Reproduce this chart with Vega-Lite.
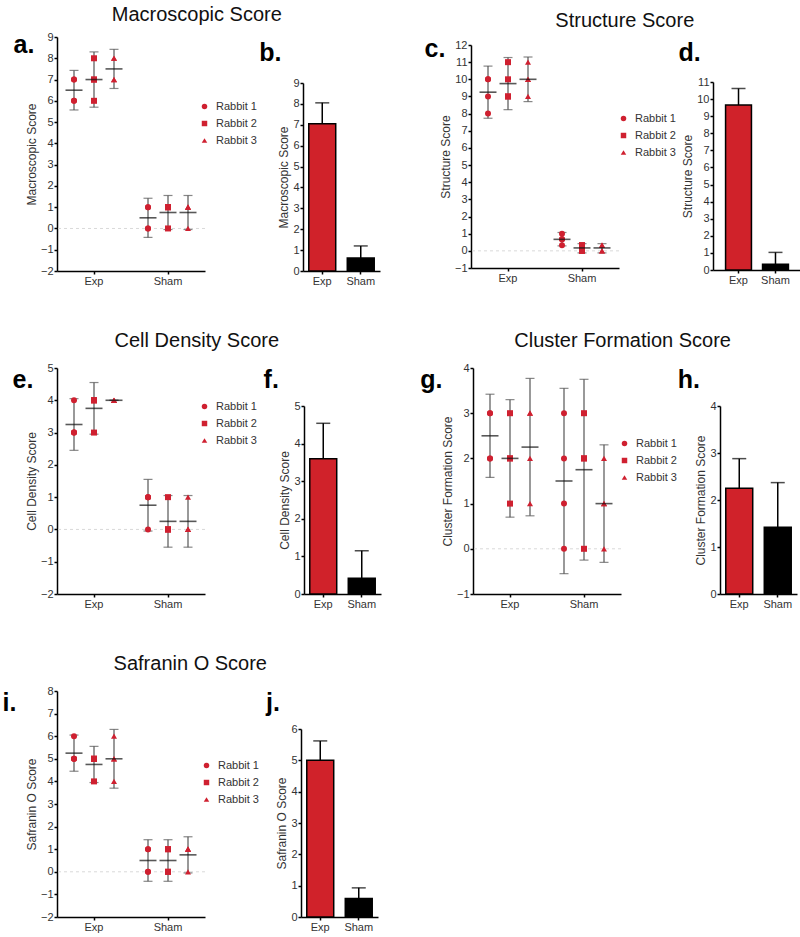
{
"$schema":"https://vega.github.io/schema/vega-lite/v6.json",
"background":"white",
"padding":{"left":2,"top":5,"right":5,"bottom":5},
"datasets":{
"pts":[
{"m":"Macro","g":"Exp","r":"Rabbit 1","v":7},{"m":"Macro","g":"Exp","r":"Rabbit 1","v":7},{"m":"Macro","g":"Exp","r":"Rabbit 1","v":6},{"m":"Macro","g":"Exp","r":"Rabbit 1","v":6},
{"m":"Macro","g":"Exp","r":"Rabbit 2","v":8},{"m":"Macro","g":"Exp","r":"Rabbit 2","v":7},{"m":"Macro","g":"Exp","r":"Rabbit 2","v":7},{"m":"Macro","g":"Exp","r":"Rabbit 2","v":6},
{"m":"Macro","g":"Exp","r":"Rabbit 3","v":8},{"m":"Macro","g":"Exp","r":"Rabbit 3","v":8},{"m":"Macro","g":"Exp","r":"Rabbit 3","v":7},{"m":"Macro","g":"Exp","r":"Rabbit 3","v":7},
{"m":"Macro","g":"Sham","r":"Rabbit 1","v":1},{"m":"Macro","g":"Sham","r":"Rabbit 1","v":1},{"m":"Macro","g":"Sham","r":"Rabbit 1","v":0},{"m":"Macro","g":"Sham","r":"Rabbit 1","v":0},
{"m":"Macro","g":"Sham","r":"Rabbit 2","v":1},{"m":"Macro","g":"Sham","r":"Rabbit 2","v":1},{"m":"Macro","g":"Sham","r":"Rabbit 2","v":1},{"m":"Macro","g":"Sham","r":"Rabbit 2","v":0},
{"m":"Macro","g":"Sham","r":"Rabbit 3","v":1},{"m":"Macro","g":"Sham","r":"Rabbit 3","v":1},{"m":"Macro","g":"Sham","r":"Rabbit 3","v":1},{"m":"Macro","g":"Sham","r":"Rabbit 3","v":0},
{"m":"Struct","g":"Exp","r":"Rabbit 1","v":10},{"m":"Struct","g":"Exp","r":"Rabbit 1","v":10},{"m":"Struct","g":"Exp","r":"Rabbit 1","v":9},{"m":"Struct","g":"Exp","r":"Rabbit 1","v":8},
{"m":"Struct","g":"Exp","r":"Rabbit 2","v":11},{"m":"Struct","g":"Exp","r":"Rabbit 2","v":10},{"m":"Struct","g":"Exp","r":"Rabbit 2","v":9},{"m":"Struct","g":"Exp","r":"Rabbit 2","v":9},
{"m":"Struct","g":"Exp","r":"Rabbit 3","v":11},{"m":"Struct","g":"Exp","r":"Rabbit 3","v":10},{"m":"Struct","g":"Exp","r":"Rabbit 3","v":10},{"m":"Struct","g":"Exp","r":"Rabbit 3","v":9},
{"m":"Struct","g":"Sham","r":"Rabbit 1","v":1},{"m":"Struct","g":"Sham","r":"Rabbit 1","v":0.67},{"m":"Struct","g":"Sham","r":"Rabbit 1","v":0.67},{"m":"Struct","g":"Sham","r":"Rabbit 1","v":0.33},
{"m":"Struct","g":"Sham","r":"Rabbit 2","v":0.33},{"m":"Struct","g":"Sham","r":"Rabbit 2","v":0.33},{"m":"Struct","g":"Sham","r":"Rabbit 2","v":0},{"m":"Struct","g":"Sham","r":"Rabbit 2","v":0},
{"m":"Struct","g":"Sham","r":"Rabbit 3","v":0.33},{"m":"Struct","g":"Sham","r":"Rabbit 3","v":0.33},{"m":"Struct","g":"Sham","r":"Rabbit 3","v":0},{"m":"Struct","g":"Sham","r":"Rabbit 3","v":0},
{"m":"Cell","g":"Exp","r":"Rabbit 1","v":4},{"m":"Cell","g":"Exp","r":"Rabbit 1","v":3},{"m":"Cell","g":"Exp","r":"Rabbit 1","v":3},{"m":"Cell","g":"Exp","r":"Rabbit 1","v":3},
{"m":"Cell","g":"Exp","r":"Rabbit 2","v":4},{"m":"Cell","g":"Exp","r":"Rabbit 2","v":4},{"m":"Cell","g":"Exp","r":"Rabbit 2","v":4},{"m":"Cell","g":"Exp","r":"Rabbit 2","v":3},
{"m":"Cell","g":"Exp","r":"Rabbit 3","v":4},{"m":"Cell","g":"Exp","r":"Rabbit 3","v":4},{"m":"Cell","g":"Exp","r":"Rabbit 3","v":4},{"m":"Cell","g":"Exp","r":"Rabbit 3","v":4},
{"m":"Cell","g":"Sham","r":"Rabbit 1","v":1},{"m":"Cell","g":"Sham","r":"Rabbit 1","v":1},{"m":"Cell","g":"Sham","r":"Rabbit 1","v":1},{"m":"Cell","g":"Sham","r":"Rabbit 1","v":0},
{"m":"Cell","g":"Sham","r":"Rabbit 2","v":1},{"m":"Cell","g":"Sham","r":"Rabbit 2","v":0},{"m":"Cell","g":"Sham","r":"Rabbit 2","v":0},{"m":"Cell","g":"Sham","r":"Rabbit 2","v":0},
{"m":"Cell","g":"Sham","r":"Rabbit 3","v":1},{"m":"Cell","g":"Sham","r":"Rabbit 3","v":0},{"m":"Cell","g":"Sham","r":"Rabbit 3","v":0},{"m":"Cell","g":"Sham","r":"Rabbit 3","v":0},
{"m":"Clus","g":"Exp","r":"Rabbit 1","v":3},{"m":"Clus","g":"Exp","r":"Rabbit 1","v":3},{"m":"Clus","g":"Exp","r":"Rabbit 1","v":2},{"m":"Clus","g":"Exp","r":"Rabbit 1","v":2},
{"m":"Clus","g":"Exp","r":"Rabbit 2","v":3},{"m":"Clus","g":"Exp","r":"Rabbit 2","v":2},{"m":"Clus","g":"Exp","r":"Rabbit 2","v":2},{"m":"Clus","g":"Exp","r":"Rabbit 2","v":1},
{"m":"Clus","g":"Exp","r":"Rabbit 3","v":3},{"m":"Clus","g":"Exp","r":"Rabbit 3","v":3},{"m":"Clus","g":"Exp","r":"Rabbit 3","v":2},{"m":"Clus","g":"Exp","r":"Rabbit 3","v":1},
{"m":"Clus","g":"Sham","r":"Rabbit 1","v":3},{"m":"Clus","g":"Sham","r":"Rabbit 1","v":2},{"m":"Clus","g":"Sham","r":"Rabbit 1","v":1},{"m":"Clus","g":"Sham","r":"Rabbit 1","v":0},
{"m":"Clus","g":"Sham","r":"Rabbit 2","v":3},{"m":"Clus","g":"Sham","r":"Rabbit 2","v":2},{"m":"Clus","g":"Sham","r":"Rabbit 2","v":2},{"m":"Clus","g":"Sham","r":"Rabbit 2","v":0},
{"m":"Clus","g":"Sham","r":"Rabbit 3","v":2},{"m":"Clus","g":"Sham","r":"Rabbit 3","v":1},{"m":"Clus","g":"Sham","r":"Rabbit 3","v":1},{"m":"Clus","g":"Sham","r":"Rabbit 3","v":0},
{"m":"Safr","g":"Exp","r":"Rabbit 1","v":6},{"m":"Safr","g":"Exp","r":"Rabbit 1","v":5},{"m":"Safr","g":"Exp","r":"Rabbit 1","v":5},{"m":"Safr","g":"Exp","r":"Rabbit 1","v":5},
{"m":"Safr","g":"Exp","r":"Rabbit 2","v":5},{"m":"Safr","g":"Exp","r":"Rabbit 2","v":5},{"m":"Safr","g":"Exp","r":"Rabbit 2","v":5},{"m":"Safr","g":"Exp","r":"Rabbit 2","v":4},
{"m":"Safr","g":"Exp","r":"Rabbit 3","v":6},{"m":"Safr","g":"Exp","r":"Rabbit 3","v":5},{"m":"Safr","g":"Exp","r":"Rabbit 3","v":5},{"m":"Safr","g":"Exp","r":"Rabbit 3","v":4},
{"m":"Safr","g":"Sham","r":"Rabbit 1","v":1},{"m":"Safr","g":"Sham","r":"Rabbit 1","v":1},{"m":"Safr","g":"Sham","r":"Rabbit 1","v":0},{"m":"Safr","g":"Sham","r":"Rabbit 1","v":0},
{"m":"Safr","g":"Sham","r":"Rabbit 2","v":1},{"m":"Safr","g":"Sham","r":"Rabbit 2","v":1},{"m":"Safr","g":"Sham","r":"Rabbit 2","v":0},{"m":"Safr","g":"Sham","r":"Rabbit 2","v":0},
{"m":"Safr","g":"Sham","r":"Rabbit 3","v":1},{"m":"Safr","g":"Sham","r":"Rabbit 3","v":1},{"m":"Safr","g":"Sham","r":"Rabbit 3","v":1},{"m":"Safr","g":"Sham","r":"Rabbit 3","v":0}
],
"sum":[
{"m":"Macro","g":"Exp","r":"Rabbit 1","mean":6.5,"lo":5.57,"hi":7.43},
{"m":"Macro","g":"Exp","r":"Rabbit 2","mean":7,"lo":5.7,"hi":8.3},
{"m":"Macro","g":"Exp","r":"Rabbit 3","mean":7.5,"lo":6.58,"hi":8.42},
{"m":"Macro","g":"Sham","r":"Rabbit 1","mean":0.5,"lo":-0.42,"hi":1.42},
{"m":"Macro","g":"Sham","r":"Rabbit 2","mean":0.75,"lo":-0.05,"hi":1.55},
{"m":"Macro","g":"Sham","r":"Rabbit 3","mean":0.75,"lo":-0.05,"hi":1.55},
{"m":"Struct","g":"Exp","r":"Rabbit 1","mean":9.25,"lo":7.73,"hi":10.77},
{"m":"Struct","g":"Exp","r":"Rabbit 2","mean":9.75,"lo":8.23,"hi":11.27},
{"m":"Struct","g":"Exp","r":"Rabbit 3","mean":10,"lo":8.7,"hi":11.3},
{"m":"Struct","g":"Sham","r":"Rabbit 1","mean":0.67,"lo":0.29,"hi":1.07},
{"m":"Struct","g":"Sham","r":"Rabbit 2","mean":0.17,"lo":-0.12,"hi":0.42},
{"m":"Struct","g":"Sham","r":"Rabbit 3","mean":0.17,"lo":-0.12,"hi":0.42},
{"m":"Cell","g":"Exp","r":"Rabbit 1","mean":3.25,"lo":2.45,"hi":4.05},
{"m":"Cell","g":"Exp","r":"Rabbit 2","mean":3.75,"lo":2.95,"hi":4.55},
{"m":"Cell","g":"Exp","r":"Rabbit 3","mean":4,"lo":4,"hi":4},
{"m":"Cell","g":"Sham","r":"Rabbit 1","mean":0.75,"lo":-0.05,"hi":1.55},
{"m":"Cell","g":"Sham","r":"Rabbit 2","mean":0.25,"lo":-0.55,"hi":1.05},
{"m":"Cell","g":"Sham","r":"Rabbit 3","mean":0.25,"lo":-0.55,"hi":1.05},
{"m":"Clus","g":"Exp","r":"Rabbit 1","mean":2.5,"lo":1.58,"hi":3.42},
{"m":"Clus","g":"Exp","r":"Rabbit 2","mean":2,"lo":0.7,"hi":3.3},
{"m":"Clus","g":"Exp","r":"Rabbit 3","mean":2.25,"lo":0.73,"hi":3.77},
{"m":"Clus","g":"Sham","r":"Rabbit 1","mean":1.5,"lo":-0.55,"hi":3.55},
{"m":"Clus","g":"Sham","r":"Rabbit 2","mean":1.75,"lo":-0.25,"hi":3.75},
{"m":"Clus","g":"Sham","r":"Rabbit 3","mean":1,"lo":-0.3,"hi":2.3},
{"m":"Safr","g":"Exp","r":"Rabbit 1","mean":5.25,"lo":4.45,"hi":6.05},
{"m":"Safr","g":"Exp","r":"Rabbit 2","mean":4.75,"lo":3.95,"hi":5.55},
{"m":"Safr","g":"Exp","r":"Rabbit 3","mean":5,"lo":3.7,"hi":6.3},
{"m":"Safr","g":"Sham","r":"Rabbit 1","mean":0.5,"lo":-0.42,"hi":1.42},
{"m":"Safr","g":"Sham","r":"Rabbit 2","mean":0.5,"lo":-0.42,"hi":1.42},
{"m":"Safr","g":"Sham","r":"Rabbit 3","mean":0.75,"lo":-0.05,"hi":1.55}
],
"bars":[
{"m":"Macro","g":"Exp","mean":7.05,"hi":8.05},{"m":"Macro","g":"Sham","mean":0.62,"hi":1.2},
{"m":"Struct","g":"Exp","mean":9.65,"hi":10.62},{"m":"Struct","g":"Sham","mean":0.33,"hi":1.03},
{"m":"Cell","g":"Exp","mean":3.6,"hi":4.54},{"m":"Cell","g":"Sham","mean":0.42,"hi":1.15},
{"m":"Clus","g":"Exp","mean":2.25,"hi":2.88},{"m":"Clus","g":"Sham","mean":1.42,"hi":2.37},
{"m":"Safr","g":"Exp","mean":5.0,"hi":5.62},{"m":"Safr","g":"Sham","mean":0.59,"hi":0.93}
],
"zero":[{"ref":0}],
"labB":[{"lab":"b."}],
"labD":[{"lab":"d."}]
},
"vconcat":[
{"hconcat":[
 {"title":{"text":"Macroscopic Score","anchor":"middle","offset":6},"spacing":2,"resolve":{"scale":{"shape":"independent"},"legend":{"shape":"independent"}},
  "hconcat":[
  {"width":148,"height":234,
   "title":{"text":"a.","orient":"left","anchor":"end","frame":"group","angle":0,"align":"left","baseline":"top","fontSize":25,"fontWeight":"bold","offset":-9,"dy":-4,"color":"#000"},
   "layer":[
    {"data":{"name":"zero"},"mark":{"type":"rule","stroke":"#d9d9d9","strokeDash":[3,3],"strokeWidth":1},"encoding":{"y":{"field":"ref","type":"quantitative","scale":{"domain":[-2,9],"nice":false,"zero":false},"axis":{"title":"Macroscopic Score","values":[-2,-1,0,1,2,3,4,5,6,7,8,9]}}}},
    {"data":{"name":"sum"},"transform":[{"filter":{"field":"m","equal":"Macro"}}],"mark":{"type":"rule","stroke":"#555","strokeWidth":1.2},"encoding":{"x":{"field":"g","type":"nominal","scale":{"domain":["Exp","Sham"],"paddingInner":0,"paddingOuter":0},"axis":{"title":null,"labelAngle":0}},"xOffset":{"field":"r","type":"nominal","scale":{"domain":["Rabbit 1","Rabbit 2","Rabbit 3"],"paddingInner":0,"paddingOuter":0.35}},"y":{"field":"lo","type":"quantitative","scale":{"domain":[-2,9],"nice":false,"zero":false},"axis":{"title":"Macroscopic Score","values":[-2,-1,0,1,2,3,4,5,6,7,8,9]}},"y2":{"field":"hi"}}},
    {"data":{"name":"sum"},"transform":[{"filter":{"field":"m","equal":"Macro"}}],"mark":{"type":"tick","color":"#555","size":9,"thickness":1.2},"encoding":{"x":{"field":"g","type":"nominal","scale":{"domain":["Exp","Sham"],"paddingInner":0,"paddingOuter":0},"axis":{"title":null,"labelAngle":0}},"xOffset":{"field":"r","type":"nominal","scale":{"domain":["Rabbit 1","Rabbit 2","Rabbit 3"],"paddingInner":0,"paddingOuter":0.35}},"y":{"field":"hi","type":"quantitative","scale":{"domain":[-2,9],"nice":false,"zero":false},"axis":{"title":"Macroscopic Score","values":[-2,-1,0,1,2,3,4,5,6,7,8,9]}}}},
    {"data":{"name":"sum"},"transform":[{"filter":{"field":"m","equal":"Macro"}}],"mark":{"type":"tick","color":"#555","size":9,"thickness":1.2},"encoding":{"x":{"field":"g","type":"nominal","scale":{"domain":["Exp","Sham"],"paddingInner":0,"paddingOuter":0},"axis":{"title":null,"labelAngle":0}},"xOffset":{"field":"r","type":"nominal","scale":{"domain":["Rabbit 1","Rabbit 2","Rabbit 3"],"paddingInner":0,"paddingOuter":0.35}},"y":{"field":"lo","type":"quantitative","scale":{"domain":[-2,9],"nice":false,"zero":false},"axis":{"title":"Macroscopic Score","values":[-2,-1,0,1,2,3,4,5,6,7,8,9]}}}},
    {"data":{"name":"pts"},"transform":[{"filter":{"field":"m","equal":"Macro"}}],"mark":{"type":"point","filled":true,"color":"#cf2030","size":36,"opacity":1},"encoding":{"x":{"field":"g","type":"nominal","scale":{"domain":["Exp","Sham"],"paddingInner":0,"paddingOuter":0},"axis":{"title":null,"labelAngle":0}},"xOffset":{"field":"r","type":"nominal","scale":{"domain":["Rabbit 1","Rabbit 2","Rabbit 3"],"paddingInner":0,"paddingOuter":0.35}},"y":{"field":"v","type":"quantitative","scale":{"domain":[-2,9],"nice":false,"zero":false},"axis":{"title":"Macroscopic Score","values":[-2,-1,0,1,2,3,4,5,6,7,8,9]}},"shape":{"field":"r","type":"nominal","scale":{"domain":["Rabbit 1","Rabbit 2","Rabbit 3"],"range":["circle","square","triangle-up"]},"legend":{"title":null,"orient":"none","legendX":142,"legendY":64}}}},
    {"data":{"name":"sum"},"transform":[{"filter":{"field":"m","equal":"Macro"}}],"mark":{"type":"tick","color":"#111","size":17,"thickness":1.6},"encoding":{"x":{"field":"g","type":"nominal","scale":{"domain":["Exp","Sham"],"paddingInner":0,"paddingOuter":0},"axis":{"title":null,"labelAngle":0}},"xOffset":{"field":"r","type":"nominal","scale":{"domain":["Rabbit 1","Rabbit 2","Rabbit 3"],"paddingInner":0,"paddingOuter":0.35}},"y":{"field":"mean","type":"quantitative","scale":{"domain":[-2,9],"nice":false,"zero":false},"axis":{"title":"Macroscopic Score","values":[-2,-1,0,1,2,3,4,5,6,7,8,9]}}}}
   ]},
  {"width":77,"height":234,
   "encoding":{"x":{"field":"g","type":"nominal","scale":{"domain":["Exp","Sham"],"paddingInner":0.3,"paddingOuter":0.15},"axis":{"title":null,"labelAngle":0}}},
   "layer":[
    {"data":{"name":"bars"},"transform":[{"filter":{"field":"m","equal":"Macro"}}],"mark":{"type":"rule","color":"#000","strokeWidth":1.5},"encoding":{"y":{"field":"mean","type":"quantitative","scale":{"domain":[0,9],"nice":false,"range":[234,46]},"axis":{"title":"Macroscopic Score","values":[0,1,2,3,4,5,6,7,8,9]}},"y2":{"field":"hi"}}},
    {"data":{"name":"bars"},"transform":[{"filter":{"field":"m","equal":"Macro"}}],"mark":{"type":"tick","color":"#000","size":14,"thickness":1.5},"encoding":{"y":{"field":"hi","type":"quantitative","scale":{"domain":[0,9],"nice":false,"range":[234,46]},"axis":{"title":"Macroscopic Score","values":[0,1,2,3,4,5,6,7,8,9]}}}},
    {"data":{"name":"bars"},"transform":[{"filter":{"field":"m","equal":"Macro"}}],"mark":{"type":"bar","stroke":"#000","strokeWidth":1.5},"encoding":{"y":{"field":"mean","type":"quantitative","scale":{"domain":[0,9],"nice":false,"range":[234,46]},"axis":{"title":"Macroscopic Score","values":[0,1,2,3,4,5,6,7,8,9]}},"color":{"field":"g","type":"nominal","scale":{"domain":["Exp","Sham"],"range":["#d0222a","#000000"]},"legend":null}}},
    {"data":{"name":"labB"},"mark":{"type":"text","align":"left","baseline":"top","fontSize":25,"fontWeight":"bold","color":"#000","dx":-63},"encoding":{"text":{"field":"lab","type":"nominal"},"x":{"datum":"Exp","type":"nominal"},"y":{"datum":11.0,"type":"quantitative","scale":{"domain":[0,9],"nice":false,"range":[234,46]},"axis":{"title":"Macroscopic Score","values":[0,1,2,3,4,5,6,7,8,9]}}}}
   ]}
 ]},
 {"title":{"text":"Structure Score","anchor":"middle","offset":6,"dx":12},"spacing":2,"resolve":{"scale":{"shape":"independent"},"legend":{"shape":"independent"}},
  "hconcat":[
  {"width":148,"height":231,
   "title":{"text":"c.","orient":"left","anchor":"end","frame":"group","angle":0,"align":"left","baseline":"top","fontSize":25,"fontWeight":"bold","offset":-6,"color":"#000"},
   "layer":[
    {"data":{"name":"zero"},"mark":{"type":"rule","stroke":"#d9d9d9","strokeDash":[3,3],"strokeWidth":1},"encoding":{"y":{"field":"ref","type":"quantitative","scale":{"domain":[-1,12],"nice":false,"zero":false,"range":[231,8]},"axis":{"title":"Structure Score","values":[-1,0,1,2,3,4,5,6,7,8,9,10,11,12]}}}},
    {"data":{"name":"sum"},"transform":[{"filter":{"field":"m","equal":"Struct"}}],"mark":{"type":"rule","stroke":"#555","strokeWidth":1.2},"encoding":{"x":{"field":"g","type":"nominal","scale":{"domain":["Exp","Sham"],"paddingInner":0,"paddingOuter":0},"axis":{"title":null,"labelAngle":0}},"xOffset":{"field":"r","type":"nominal","scale":{"domain":["Rabbit 1","Rabbit 2","Rabbit 3"],"paddingInner":0,"paddingOuter":0.35}},"y":{"field":"lo","type":"quantitative","scale":{"domain":[-1,12],"nice":false,"zero":false,"range":[231,8]},"axis":{"title":"Structure Score","values":[-1,0,1,2,3,4,5,6,7,8,9,10,11,12]}},"y2":{"field":"hi"}}},
    {"data":{"name":"sum"},"transform":[{"filter":{"field":"m","equal":"Struct"}}],"mark":{"type":"tick","color":"#555","size":9,"thickness":1.2},"encoding":{"x":{"field":"g","type":"nominal","scale":{"domain":["Exp","Sham"],"paddingInner":0,"paddingOuter":0},"axis":{"title":null,"labelAngle":0}},"xOffset":{"field":"r","type":"nominal","scale":{"domain":["Rabbit 1","Rabbit 2","Rabbit 3"],"paddingInner":0,"paddingOuter":0.35}},"y":{"field":"hi","type":"quantitative","scale":{"domain":[-1,12],"nice":false,"zero":false,"range":[231,8]},"axis":{"title":"Structure Score","values":[-1,0,1,2,3,4,5,6,7,8,9,10,11,12]}}}},
    {"data":{"name":"sum"},"transform":[{"filter":{"field":"m","equal":"Struct"}}],"mark":{"type":"tick","color":"#555","size":9,"thickness":1.2},"encoding":{"x":{"field":"g","type":"nominal","scale":{"domain":["Exp","Sham"],"paddingInner":0,"paddingOuter":0},"axis":{"title":null,"labelAngle":0}},"xOffset":{"field":"r","type":"nominal","scale":{"domain":["Rabbit 1","Rabbit 2","Rabbit 3"],"paddingInner":0,"paddingOuter":0.35}},"y":{"field":"lo","type":"quantitative","scale":{"domain":[-1,12],"nice":false,"zero":false,"range":[231,8]},"axis":{"title":"Structure Score","values":[-1,0,1,2,3,4,5,6,7,8,9,10,11,12]}}}},
    {"data":{"name":"pts"},"transform":[{"filter":{"field":"m","equal":"Struct"}}],"mark":{"type":"point","filled":true,"color":"#cf2030","size":36,"opacity":1},"encoding":{"x":{"field":"g","type":"nominal","scale":{"domain":["Exp","Sham"],"paddingInner":0,"paddingOuter":0},"axis":{"title":null,"labelAngle":0}},"xOffset":{"field":"r","type":"nominal","scale":{"domain":["Rabbit 1","Rabbit 2","Rabbit 3"],"paddingInner":0,"paddingOuter":0.35}},"y":{"field":"v","type":"quantitative","scale":{"domain":[-1,12],"nice":false,"zero":false,"range":[231,8]},"axis":{"title":"Structure Score","values":[-1,0,1,2,3,4,5,6,7,8,9,10,11,12]}},"shape":{"field":"r","type":"nominal","scale":{"domain":["Rabbit 1","Rabbit 2","Rabbit 3"],"range":["circle","square","triangle-up"]},"legend":{"title":null,"orient":"none","legendX":147,"legendY":76}}}},
    {"data":{"name":"sum"},"transform":[{"filter":{"field":"m","equal":"Struct"}}],"mark":{"type":"tick","color":"#111","size":17,"thickness":1.6},"encoding":{"x":{"field":"g","type":"nominal","scale":{"domain":["Exp","Sham"],"paddingInner":0,"paddingOuter":0},"axis":{"title":null,"labelAngle":0}},"xOffset":{"field":"r","type":"nominal","scale":{"domain":["Rabbit 1","Rabbit 2","Rabbit 3"],"paddingInner":0,"paddingOuter":0.35}},"y":{"field":"mean","type":"quantitative","scale":{"domain":[-1,12],"nice":false,"zero":false,"range":[231,8]},"axis":{"title":"Structure Score","values":[-1,0,1,2,3,4,5,6,7,8,9,10,11,12]}}}}
   ]},
  {"width":88,"height":233,
   "encoding":{"x":{"field":"g","type":"nominal","scale":{"domain":["Exp","Sham"],"paddingInner":0.3,"paddingOuter":0.34},"axis":{"title":null,"labelAngle":0}}},
   "layer":[
    {"data":{"name":"bars"},"transform":[{"filter":{"field":"m","equal":"Struct"}}],"mark":{"type":"rule","color":"#000","strokeWidth":1.5},"encoding":{"y":{"field":"mean","type":"quantitative","scale":{"domain":[0,11],"nice":false,"range":[233,45]},"axis":{"title":"Structure Score","values":[0,1,2,3,4,5,6,7,8,9,10,11]}},"y2":{"field":"hi"}}},
    {"data":{"name":"bars"},"transform":[{"filter":{"field":"m","equal":"Struct"}}],"mark":{"type":"tick","color":"#000","size":14,"thickness":1.5},"encoding":{"y":{"field":"hi","type":"quantitative","scale":{"domain":[0,11],"nice":false,"range":[233,45]},"axis":{"title":"Structure Score","values":[0,1,2,3,4,5,6,7,8,9,10,11]}}}},
    {"data":{"name":"bars"},"transform":[{"filter":{"field":"m","equal":"Struct"}}],"mark":{"type":"bar","stroke":"#000","strokeWidth":1.5},"encoding":{"y":{"field":"mean","type":"quantitative","scale":{"domain":[0,11],"nice":false,"range":[233,45]},"axis":{"title":"Structure Score","values":[0,1,2,3,4,5,6,7,8,9,10,11]}},"color":{"field":"g","type":"nominal","scale":{"domain":["Exp","Sham"],"range":["#d0222a","#000000"]},"legend":null}}},
    {"data":{"name":"labD"},"mark":{"type":"text","align":"left","baseline":"top","fontSize":25,"fontWeight":"bold","color":"#000","dx":-60},"encoding":{"text":{"field":"lab","type":"nominal"},"x":{"datum":"Exp","type":"nominal"},"y":{"datum":13.4,"type":"quantitative","scale":{"domain":[0,11],"nice":false,"range":[233,45]},"axis":{"title":"Structure Score","values":[0,1,2,3,4,5,6,7,8,9,10,11]}}}}
   ]}
 ]}
],"spacing":44,"resolve":{"scale":{"shape":"independent"},"legend":{"shape":"independent"}}},
{"hconcat":[
 {"title":{"text":"Cell Density Score","anchor":"middle","offset":11},"spacing":6,"resolve":{"scale":{"shape":"independent"},"legend":{"shape":"independent"}},
  "hconcat":[
  {"width":148,"height":226,
   "title":{"text":"e.","orient":"left","anchor":"end","frame":"group","angle":0,"align":"left","baseline":"top","fontSize":25,"fontWeight":"bold","offset":-8,"color":"#000"},
   "layer":[
    {"data":{"name":"zero"},"mark":{"type":"rule","stroke":"#d9d9d9","strokeDash":[3,3],"strokeWidth":1},"encoding":{"y":{"field":"ref","type":"quantitative","scale":{"domain":[-2,5],"nice":false,"zero":false},"axis":{"title":"Cell Density Score","values":[-2,-1,0,1,2,3,4,5]}}}},
    {"data":{"name":"sum"},"transform":[{"filter":{"field":"m","equal":"Cell"}}],"mark":{"type":"rule","stroke":"#555","strokeWidth":1.2},"encoding":{"x":{"field":"g","type":"nominal","scale":{"domain":["Exp","Sham"],"paddingInner":0,"paddingOuter":0},"axis":{"title":null,"labelAngle":0}},"xOffset":{"field":"r","type":"nominal","scale":{"domain":["Rabbit 1","Rabbit 2","Rabbit 3"],"paddingInner":0,"paddingOuter":0.35}},"y":{"field":"lo","type":"quantitative","scale":{"domain":[-2,5],"nice":false,"zero":false},"axis":{"title":"Cell Density Score","values":[-2,-1,0,1,2,3,4,5]}},"y2":{"field":"hi"}}},
    {"data":{"name":"sum"},"transform":[{"filter":{"field":"m","equal":"Cell"}}],"mark":{"type":"tick","color":"#555","size":9,"thickness":1.2},"encoding":{"x":{"field":"g","type":"nominal","scale":{"domain":["Exp","Sham"],"paddingInner":0,"paddingOuter":0},"axis":{"title":null,"labelAngle":0}},"xOffset":{"field":"r","type":"nominal","scale":{"domain":["Rabbit 1","Rabbit 2","Rabbit 3"],"paddingInner":0,"paddingOuter":0.35}},"y":{"field":"hi","type":"quantitative","scale":{"domain":[-2,5],"nice":false,"zero":false},"axis":{"title":"Cell Density Score","values":[-2,-1,0,1,2,3,4,5]}}}},
    {"data":{"name":"sum"},"transform":[{"filter":{"field":"m","equal":"Cell"}}],"mark":{"type":"tick","color":"#555","size":9,"thickness":1.2},"encoding":{"x":{"field":"g","type":"nominal","scale":{"domain":["Exp","Sham"],"paddingInner":0,"paddingOuter":0},"axis":{"title":null,"labelAngle":0}},"xOffset":{"field":"r","type":"nominal","scale":{"domain":["Rabbit 1","Rabbit 2","Rabbit 3"],"paddingInner":0,"paddingOuter":0.35}},"y":{"field":"lo","type":"quantitative","scale":{"domain":[-2,5],"nice":false,"zero":false},"axis":{"title":"Cell Density Score","values":[-2,-1,0,1,2,3,4,5]}}}},
    {"data":{"name":"pts"},"transform":[{"filter":{"field":"m","equal":"Cell"}}],"mark":{"type":"point","filled":true,"color":"#cf2030","size":36,"opacity":1},"encoding":{"x":{"field":"g","type":"nominal","scale":{"domain":["Exp","Sham"],"paddingInner":0,"paddingOuter":0},"axis":{"title":null,"labelAngle":0}},"xOffset":{"field":"r","type":"nominal","scale":{"domain":["Rabbit 1","Rabbit 2","Rabbit 3"],"paddingInner":0,"paddingOuter":0.35}},"y":{"field":"v","type":"quantitative","scale":{"domain":[-2,5],"nice":false,"zero":false},"axis":{"title":"Cell Density Score","values":[-2,-1,0,1,2,3,4,5]}},"shape":{"field":"r","type":"nominal","scale":{"domain":["Rabbit 1","Rabbit 2","Rabbit 3"],"range":["circle","square","triangle-up"]},"legend":{"title":null,"orient":"none","legendX":142,"legendY":33}}}},
    {"data":{"name":"sum"},"transform":[{"filter":{"field":"m","equal":"Cell"}}],"mark":{"type":"tick","color":"#111","size":17,"thickness":1.6},"encoding":{"x":{"field":"g","type":"nominal","scale":{"domain":["Exp","Sham"],"paddingInner":0,"paddingOuter":0},"axis":{"title":null,"labelAngle":0}},"xOffset":{"field":"r","type":"nominal","scale":{"domain":["Rabbit 1","Rabbit 2","Rabbit 3"],"paddingInner":0,"paddingOuter":0.35}},"y":{"field":"mean","type":"quantitative","scale":{"domain":[-2,5],"nice":false,"zero":false},"axis":{"title":"Cell Density Score","values":[-2,-1,0,1,2,3,4,5]}}}}
   ]},
  {"width":77,"height":226,
   "title":{"text":"f.","orient":"left","anchor":"end","frame":"group","angle":0,"align":"left","baseline":"top","fontSize":25,"fontWeight":"bold","offset":0,"dx":0,"color":"#000"},
   "data":{"name":"bars"},"transform":[{"filter":{"field":"m","equal":"Cell"}}],
   "encoding":{"x":{"field":"g","type":"nominal","scale":{"domain":["Exp","Sham"],"paddingInner":0.3,"paddingOuter":0.15},"axis":{"title":null,"labelAngle":0}}},
   "layer":[
    {"mark":{"type":"rule","color":"#000","strokeWidth":1.5},"encoding":{"y":{"field":"mean","type":"quantitative","scale":{"domain":[0,5],"nice":false,"range":[226,38]},"axis":{"title":"Cell Density Score","values":[0,1,2,3,4,5]}},"y2":{"field":"hi"}}},
    {"mark":{"type":"tick","color":"#000","size":14,"thickness":1.5},"encoding":{"y":{"field":"hi","type":"quantitative","scale":{"domain":[0,5],"nice":false,"range":[226,38]},"axis":{"title":"Cell Density Score","values":[0,1,2,3,4,5]}}}},
    {"mark":{"type":"bar","stroke":"#000","strokeWidth":1.5},"encoding":{"y":{"field":"mean","type":"quantitative","scale":{"domain":[0,5],"nice":false,"range":[226,38]},"axis":{"title":"Cell Density Score","values":[0,1,2,3,4,5]}},"color":{"field":"g","type":"nominal","scale":{"domain":["Exp","Sham"],"range":["#d0222a","#000000"]},"legend":null}}}
   ]}
 ]},
 {"title":{"text":"Cluster Formation Score","anchor":"middle","offset":11,"dx":14},"spacing":0,"resolve":{"scale":{"shape":"independent"},"legend":{"shape":"independent"}},
  "hconcat":[
  {"width":148,"height":226,
   "title":{"text":"g.","orient":"left","anchor":"end","frame":"group","angle":0,"align":"left","baseline":"top","fontSize":25,"fontWeight":"bold","offset":-1,"color":"#000"},
   "layer":[
    {"data":{"name":"zero"},"mark":{"type":"rule","stroke":"#d9d9d9","strokeDash":[3,3],"strokeWidth":1},"encoding":{"y":{"field":"ref","type":"quantitative","scale":{"domain":[-1,4],"nice":false,"zero":false},"axis":{"title":"Cluster Formation Score","values":[-1,0,1,2,3,4]}}}},
    {"data":{"name":"sum"},"transform":[{"filter":{"field":"m","equal":"Clus"}}],"mark":{"type":"rule","stroke":"#555","strokeWidth":1.2},"encoding":{"x":{"field":"g","type":"nominal","scale":{"domain":["Exp","Sham"],"paddingInner":0,"paddingOuter":0},"axis":{"title":null,"labelAngle":0}},"xOffset":{"field":"r","type":"nominal","scale":{"domain":["Rabbit 1","Rabbit 2","Rabbit 3"],"paddingInner":0,"paddingOuter":0.35}},"y":{"field":"lo","type":"quantitative","scale":{"domain":[-1,4],"nice":false,"zero":false},"axis":{"title":"Cluster Formation Score","values":[-1,0,1,2,3,4]}},"y2":{"field":"hi"}}},
    {"data":{"name":"sum"},"transform":[{"filter":{"field":"m","equal":"Clus"}}],"mark":{"type":"tick","color":"#555","size":9,"thickness":1.2},"encoding":{"x":{"field":"g","type":"nominal","scale":{"domain":["Exp","Sham"],"paddingInner":0,"paddingOuter":0},"axis":{"title":null,"labelAngle":0}},"xOffset":{"field":"r","type":"nominal","scale":{"domain":["Rabbit 1","Rabbit 2","Rabbit 3"],"paddingInner":0,"paddingOuter":0.35}},"y":{"field":"hi","type":"quantitative","scale":{"domain":[-1,4],"nice":false,"zero":false},"axis":{"title":"Cluster Formation Score","values":[-1,0,1,2,3,4]}}}},
    {"data":{"name":"sum"},"transform":[{"filter":{"field":"m","equal":"Clus"}}],"mark":{"type":"tick","color":"#555","size":9,"thickness":1.2},"encoding":{"x":{"field":"g","type":"nominal","scale":{"domain":["Exp","Sham"],"paddingInner":0,"paddingOuter":0},"axis":{"title":null,"labelAngle":0}},"xOffset":{"field":"r","type":"nominal","scale":{"domain":["Rabbit 1","Rabbit 2","Rabbit 3"],"paddingInner":0,"paddingOuter":0.35}},"y":{"field":"lo","type":"quantitative","scale":{"domain":[-1,4],"nice":false,"zero":false},"axis":{"title":"Cluster Formation Score","values":[-1,0,1,2,3,4]}}}},
    {"data":{"name":"pts"},"transform":[{"filter":{"field":"m","equal":"Clus"}}],"mark":{"type":"point","filled":true,"color":"#cf2030","size":36,"opacity":1},"encoding":{"x":{"field":"g","type":"nominal","scale":{"domain":["Exp","Sham"],"paddingInner":0,"paddingOuter":0},"axis":{"title":null,"labelAngle":0}},"xOffset":{"field":"r","type":"nominal","scale":{"domain":["Rabbit 1","Rabbit 2","Rabbit 3"],"paddingInner":0,"paddingOuter":0.35}},"y":{"field":"v","type":"quantitative","scale":{"domain":[-1,4],"nice":false,"zero":false},"axis":{"title":"Cluster Formation Score","values":[-1,0,1,2,3,4]}},"shape":{"field":"r","type":"nominal","scale":{"domain":["Rabbit 1","Rabbit 2","Rabbit 3"],"range":["circle","square","triangle-up"]},"legend":{"title":null,"orient":"none","legendX":146,"legendY":70}}}},
    {"data":{"name":"sum"},"transform":[{"filter":{"field":"m","equal":"Clus"}}],"mark":{"type":"tick","color":"#111","size":17,"thickness":1.6},"encoding":{"x":{"field":"g","type":"nominal","scale":{"domain":["Exp","Sham"],"paddingInner":0,"paddingOuter":0},"axis":{"title":null,"labelAngle":0}},"xOffset":{"field":"r","type":"nominal","scale":{"domain":["Rabbit 1","Rabbit 2","Rabbit 3"],"paddingInner":0,"paddingOuter":0.35}},"y":{"field":"mean","type":"quantitative","scale":{"domain":[-1,4],"nice":false,"zero":false},"axis":{"title":"Cluster Formation Score","values":[-1,0,1,2,3,4]}}}}
   ]},
  {"width":77,"height":226,
   "title":{"text":"h.","orient":"left","anchor":"end","frame":"group","angle":0,"align":"left","baseline":"top","fontSize":25,"fontWeight":"bold","offset":0,"dx":5,"color":"#000"},
   "data":{"name":"bars"},"transform":[{"filter":{"field":"m","equal":"Clus"}}],
   "encoding":{"x":{"field":"g","type":"nominal","scale":{"domain":["Exp","Sham"],"paddingInner":0.3,"paddingOuter":0.15},"axis":{"title":null,"labelAngle":0}}},
   "layer":[
    {"mark":{"type":"rule","color":"#000","strokeWidth":1.5},"encoding":{"y":{"field":"mean","type":"quantitative","scale":{"domain":[0,4],"nice":false,"range":[226,38]},"axis":{"title":"Cluster Formation Score","values":[0,1,2,3,4]}},"y2":{"field":"hi"}}},
    {"mark":{"type":"tick","color":"#000","size":14,"thickness":1.5},"encoding":{"y":{"field":"hi","type":"quantitative","scale":{"domain":[0,4],"nice":false,"range":[226,38]},"axis":{"title":"Cluster Formation Score","values":[0,1,2,3,4]}}}},
    {"mark":{"type":"bar","stroke":"#000","strokeWidth":1.5},"encoding":{"y":{"field":"mean","type":"quantitative","scale":{"domain":[0,4],"nice":false,"range":[226,38]},"axis":{"title":"Cluster Formation Score","values":[0,1,2,3,4]}},"color":{"field":"g","type":"nominal","scale":{"domain":["Exp","Sham"],"range":["#d0222a","#000000"]},"legend":null}}}
   ]}
 ]}
],"spacing":39,"resolve":{"scale":{"shape":"independent"},"legend":{"shape":"independent"}}},
{"hconcat":[
 {"title":{"text":"Safranin O Score","anchor":"middle","offset":11},"spacing":6,"resolve":{"scale":{"shape":"independent"},"legend":{"shape":"independent"}},
  "hconcat":[
  {"width":148,"height":226,
   "title":{"text":"i.","orient":"left","anchor":"end","frame":"group","angle":0,"align":"left","baseline":"top","fontSize":25,"fontWeight":"bold","offset":9,"color":"#000"},
   "layer":[
    {"data":{"name":"zero"},"mark":{"type":"rule","stroke":"#d9d9d9","strokeDash":[3,3],"strokeWidth":1},"encoding":{"y":{"field":"ref","type":"quantitative","scale":{"domain":[-2,8],"nice":false,"zero":false},"axis":{"title":"Safranin O Score","values":[-2,-1,0,1,2,3,4,5,6,7,8]}}}},
    {"data":{"name":"sum"},"transform":[{"filter":{"field":"m","equal":"Safr"}}],"mark":{"type":"rule","stroke":"#555","strokeWidth":1.2},"encoding":{"x":{"field":"g","type":"nominal","scale":{"domain":["Exp","Sham"],"paddingInner":0,"paddingOuter":0},"axis":{"title":null,"labelAngle":0}},"xOffset":{"field":"r","type":"nominal","scale":{"domain":["Rabbit 1","Rabbit 2","Rabbit 3"],"paddingInner":0,"paddingOuter":0.35}},"y":{"field":"lo","type":"quantitative","scale":{"domain":[-2,8],"nice":false,"zero":false},"axis":{"title":"Safranin O Score","values":[-2,-1,0,1,2,3,4,5,6,7,8]}},"y2":{"field":"hi"}}},
    {"data":{"name":"sum"},"transform":[{"filter":{"field":"m","equal":"Safr"}}],"mark":{"type":"tick","color":"#555","size":9,"thickness":1.2},"encoding":{"x":{"field":"g","type":"nominal","scale":{"domain":["Exp","Sham"],"paddingInner":0,"paddingOuter":0},"axis":{"title":null,"labelAngle":0}},"xOffset":{"field":"r","type":"nominal","scale":{"domain":["Rabbit 1","Rabbit 2","Rabbit 3"],"paddingInner":0,"paddingOuter":0.35}},"y":{"field":"hi","type":"quantitative","scale":{"domain":[-2,8],"nice":false,"zero":false},"axis":{"title":"Safranin O Score","values":[-2,-1,0,1,2,3,4,5,6,7,8]}}}},
    {"data":{"name":"sum"},"transform":[{"filter":{"field":"m","equal":"Safr"}}],"mark":{"type":"tick","color":"#555","size":9,"thickness":1.2},"encoding":{"x":{"field":"g","type":"nominal","scale":{"domain":["Exp","Sham"],"paddingInner":0,"paddingOuter":0},"axis":{"title":null,"labelAngle":0}},"xOffset":{"field":"r","type":"nominal","scale":{"domain":["Rabbit 1","Rabbit 2","Rabbit 3"],"paddingInner":0,"paddingOuter":0.35}},"y":{"field":"lo","type":"quantitative","scale":{"domain":[-2,8],"nice":false,"zero":false},"axis":{"title":"Safranin O Score","values":[-2,-1,0,1,2,3,4,5,6,7,8]}}}},
    {"data":{"name":"pts"},"transform":[{"filter":{"field":"m","equal":"Safr"}}],"mark":{"type":"point","filled":true,"color":"#cf2030","size":36,"opacity":1},"encoding":{"x":{"field":"g","type":"nominal","scale":{"domain":["Exp","Sham"],"paddingInner":0,"paddingOuter":0},"axis":{"title":null,"labelAngle":0}},"xOffset":{"field":"r","type":"nominal","scale":{"domain":["Rabbit 1","Rabbit 2","Rabbit 3"],"paddingInner":0,"paddingOuter":0.35}},"y":{"field":"v","type":"quantitative","scale":{"domain":[-2,8],"nice":false,"zero":false},"axis":{"title":"Safranin O Score","values":[-2,-1,0,1,2,3,4,5,6,7,8]}},"shape":{"field":"r","type":"nominal","scale":{"domain":["Rabbit 1","Rabbit 2","Rabbit 3"],"range":["circle","square","triangle-up"]},"legend":{"title":null,"orient":"none","legendX":144,"legendY":69}}}},
    {"data":{"name":"sum"},"transform":[{"filter":{"field":"m","equal":"Safr"}}],"mark":{"type":"tick","color":"#111","size":17,"thickness":1.6},"encoding":{"x":{"field":"g","type":"nominal","scale":{"domain":["Exp","Sham"],"paddingInner":0,"paddingOuter":0},"axis":{"title":null,"labelAngle":0}},"xOffset":{"field":"r","type":"nominal","scale":{"domain":["Rabbit 1","Rabbit 2","Rabbit 3"],"paddingInner":0,"paddingOuter":0.35}},"y":{"field":"mean","type":"quantitative","scale":{"domain":[-2,8],"nice":false,"zero":false},"axis":{"title":"Safranin O Score","values":[-2,-1,0,1,2,3,4,5,6,7,8]}}}}
   ]},
  {"width":77,"height":226,
   "title":{"text":"j.","orient":"left","anchor":"end","frame":"group","angle":0,"align":"left","baseline":"top","fontSize":25,"fontWeight":"bold","offset":0,"dx":4,"color":"#000"},
   "data":{"name":"bars"},"transform":[{"filter":{"field":"m","equal":"Safr"}}],
   "encoding":{"x":{"field":"g","type":"nominal","scale":{"domain":["Exp","Sham"],"paddingInner":0.3,"paddingOuter":0.15},"axis":{"title":null,"labelAngle":0}}},
   "layer":[
    {"mark":{"type":"rule","color":"#000","strokeWidth":1.5},"encoding":{"y":{"field":"mean","type":"quantitative","scale":{"domain":[0,6],"nice":false,"range":[226,38]},"axis":{"title":"Safranin O Score","values":[0,1,2,3,4,5,6]}},"y2":{"field":"hi"}}},
    {"mark":{"type":"tick","color":"#000","size":14,"thickness":1.5},"encoding":{"y":{"field":"hi","type":"quantitative","scale":{"domain":[0,6],"nice":false,"range":[226,38]},"axis":{"title":"Safranin O Score","values":[0,1,2,3,4,5,6]}}}},
    {"mark":{"type":"bar","stroke":"#000","strokeWidth":1.5},"encoding":{"y":{"field":"mean","type":"quantitative","scale":{"domain":[0,6],"nice":false,"range":[226,38]},"axis":{"title":"Safranin O Score","values":[0,1,2,3,4,5,6]}},"color":{"field":"g","type":"nominal","scale":{"domain":["Exp","Sham"],"range":["#d0222a","#000000"]},"legend":null}}}
   ]}
 ]}
],"resolve":{"scale":{"shape":"independent"},"legend":{"shape":"independent"}}}
],
"spacing":45,
"resolve":{"scale":{"shape":"independent"},"legend":{"shape":"independent"}},
"config":{
 "font":"Liberation Sans",
 "view":{"stroke":null},
 "title":{"font":"Liberation Sans","fontSize":20,"fontWeight":"normal","color":"#111"},
 "axis":{"domainColor":"#000","domainWidth":1.5,"tickColor":"#000","tickWidth":1.5,"tickSize":3,"labelColor":"#333","labelFontSize":11,"labelFont":"Liberation Sans","titleFont":"Liberation Sans","titleFontSize":12,"titleFontWeight":"normal","titleColor":"#333","labelPadding":1,"titlePadding":2,"grid":false,"minExtent":0},
 "legend":{"labelFont":"Liberation Sans","labelFontSize":11,"labelColor":"#333","symbolSize":30,"symbolFillColor":"#cf2030","symbolStrokeWidth":0,"rowPadding":5,"padding":0,"labelOffset":6},
 "text":{"font":"Liberation Sans"}
}
}
